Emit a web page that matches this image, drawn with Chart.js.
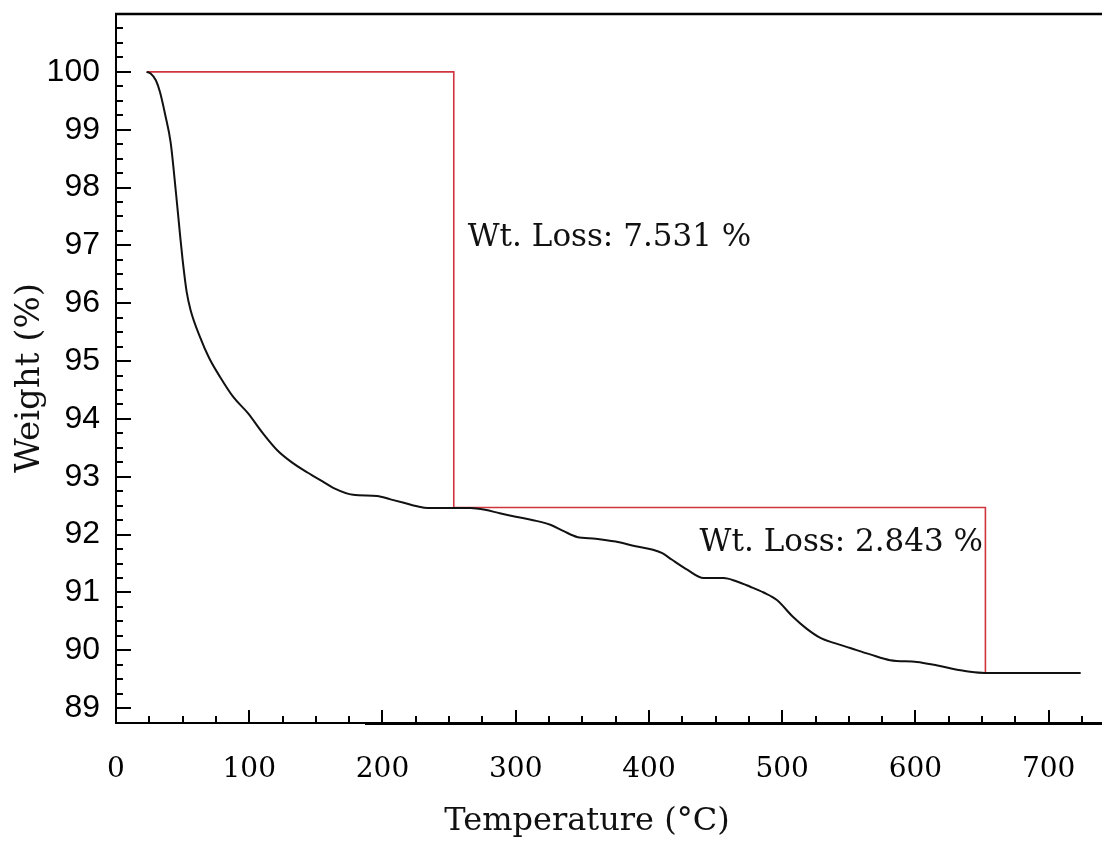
<!DOCTYPE html>
<html><head><meta charset="utf-8">
<script src="https://cdn.jsdelivr.net/npm/chart.js@4/dist/chart.umd.min.js"></script>
<style>html,body{margin:0;padding:0;background:#fff}canvas{display:block}</style>
</head><body>
<canvas id="c" width="1102" height="844"></canvas>
<script>
// ---- data ----
const temperatureC = [23,26,30,33,37,41,45,48,50,53,56,63,70,78,88,99,110,121,132,144,155,163,178,196,206,216,226,234,253,266,277,288,300,313,326,336,346,360,375,390,403,410,417,429,441,456,466,476,486,496,508,518,529,540,551,566,581,601,614,626,641,652,690,724];
const weightPct    = [100,99.97,99.85,99.65,99.25,98.78,97.91,97.2,96.75,96.2,95.88,95.42,95.05,94.73,94.38,94.10,93.76,93.46,93.25,93.07,92.92,92.81,92.69,92.67,92.61,92.55,92.49,92.46,92.46,92.46,92.43,92.37,92.31,92.25,92.17,92.06,91.96,91.93,91.88,91.80,91.74,91.68,91.57,91.39,91.25,91.25,91.19,91.10,91.00,90.87,90.58,90.38,90.21,90.12,90.04,89.93,89.83,89.80,89.75,89.69,89.63,89.61,89.61,89.61];
const stepTemperature = [23, 253.5, 253.5, 652.5, 652.5];
const stepWeight      = [100, 100, 92.469, 92.469, 89.626];
const xTickValues = [0,100,200,300,400,500,600,700];
const yTickValues = [89,90,91,92,93,94,95,96,97,98,99,100];
const annotationTexts = ['Wt. Loss: 7.531 %', 'Wt. Loss: 2.843 %'];
const annotationX = [264, 438];
const annotationY = [97.13, 91.86];
const xTitle = 'Temperature (\u00B0C)';
const yTitle = 'Weight (%)';

const X_MIN = 0, X_MAX = 740, Y_MIN = 88.744, Y_MAX = 101;
const SERIF = '"DejaVu Serif", "Liberation Serif", serif';

function noPad(s) { s.paddingTop = 0; s.paddingBottom = 0; s.paddingLeft = 0; s.paddingRight = 0; }

const framePlugin = {
  id: 'frame',
  afterDraw(chart) {
    const ctx = chart.ctx, xs = chart.scales.x, ys = chart.scales.y, a = chart.chartArea;
    ctx.save();
    ctx.strokeStyle = '#000';
    ctx.lineWidth = 2;
    ctx.beginPath();
    ctx.moveTo(a.left, a.top); ctx.lineTo(a.left, a.bottom);
    ctx.moveTo(a.left - 1, a.bottom); ctx.lineTo(a.right, a.bottom);
    ctx.stroke();
    ctx.lineWidth = 2.5;
    ctx.beginPath(); ctx.moveTo(a.left - 1, a.top); ctx.lineTo(a.right, a.top); ctx.stroke();
    ctx.lineWidth = 2;
    ctx.beginPath(); ctx.moveTo(365, a.bottom + 1); ctx.lineTo(a.right, a.bottom + 1); ctx.stroke();
    // inward ticks
    ctx.lineWidth = 2;
    ctx.beginPath();
    for (let v = 89; v <= 100.76; v += 0.25) {
      const y = Math.round(ys.getPixelForValue(v));
      const major = Math.abs(v - Math.round(v)) < 1e-6;
      ctx.moveTo(a.left, y); ctx.lineTo(a.left + (major ? 15 : 7), y);
    }
    for (let t = 25; t <= 725; t += 25) {
      const x = Math.round(xs.getPixelForValue(t));
      const major = t % 100 === 0;
      ctx.moveTo(x, a.bottom); ctx.lineTo(x, a.bottom - (major ? 13 : 7));
    }
    ctx.stroke();
    // annotations
    ctx.fillStyle = '#111';
    ctx.font = '31px ' + SERIF;
    ctx.textAlign = 'left';
    ctx.textBaseline = 'middle';
    annotationTexts.forEach((t, i) => {
      ctx.fillText(t, xs.getPixelForValue(annotationX[i]), ys.getPixelForValue(annotationY[i]));
    });
    // axis titles
    ctx.font = '32px ' + SERIF;
    ctx.textAlign = 'center';
    ctx.fillText(xTitle, 587, 822);
    ctx.save();
    ctx.translate(30, 378);
    ctx.rotate(-Math.PI / 2);
    ctx.font = '34px ' + SERIF;
    ctx.fillText(yTitle, 0, 0);
    ctx.restore();
    ctx.restore();
  }
};

new Chart(document.getElementById('c'), {
  type: 'line',
  data: {
    datasets: [
      {
        label: 'TGA',
        data: temperatureC.map((t, i) => ({x: t, y: weightPct[i]})),
        borderColor: '#111',
        borderWidth: 2,
        pointRadius: 0,
        cubicInterpolationMode: 'monotone',
        fill: false
      },
      {
        label: 'Steps',
        data: stepTemperature.map((t, i) => ({x: t, y: stepWeight[i]})),
        borderColor: '#d0343e',
        borderWidth: 1.6,
        pointRadius: 0,
        tension: 0,
        fill: false
      }
    ]
  },
  options: {
    responsive: false,
    animation: false,
    layout: {padding: {top: 14, right: 0, left: 0, bottom: 0}},
    plugins: {legend: {display: false}, tooltip: {enabled: false}, title: {display: false}},
    scales: {
      x: {
        type: 'linear', min: X_MIN, max: X_MAX,
        afterFit(s) { s.height = 121; noPad(s); },
        afterBuildTicks(s) { s.ticks = xTickValues.map(v => ({value: v})); },
        grid: {display: false, drawTicks: false},
        border: {display: false},
        ticks: {padding: 30, color: '#000', font: {family: SERIF, size: 28}, maxRotation: 0, autoSkip: false}
      },
      y: {
        type: 'linear', min: Y_MIN, max: Y_MAX,
        afterFit(s) { s.width = 116; noPad(s); },
        afterBuildTicks(s) { s.ticks = yTickValues.map(v => ({value: v})); },
        grid: {display: false, drawTicks: false},
        border: {display: false},
        ticks: {padding: 16, color: '#000', font: {family: '"Liberation Sans", Arial, sans-serif', size: 32}, autoSkip: false}
      }
    }
  },
  plugins: [framePlugin]
});
</script>
</body></html>
